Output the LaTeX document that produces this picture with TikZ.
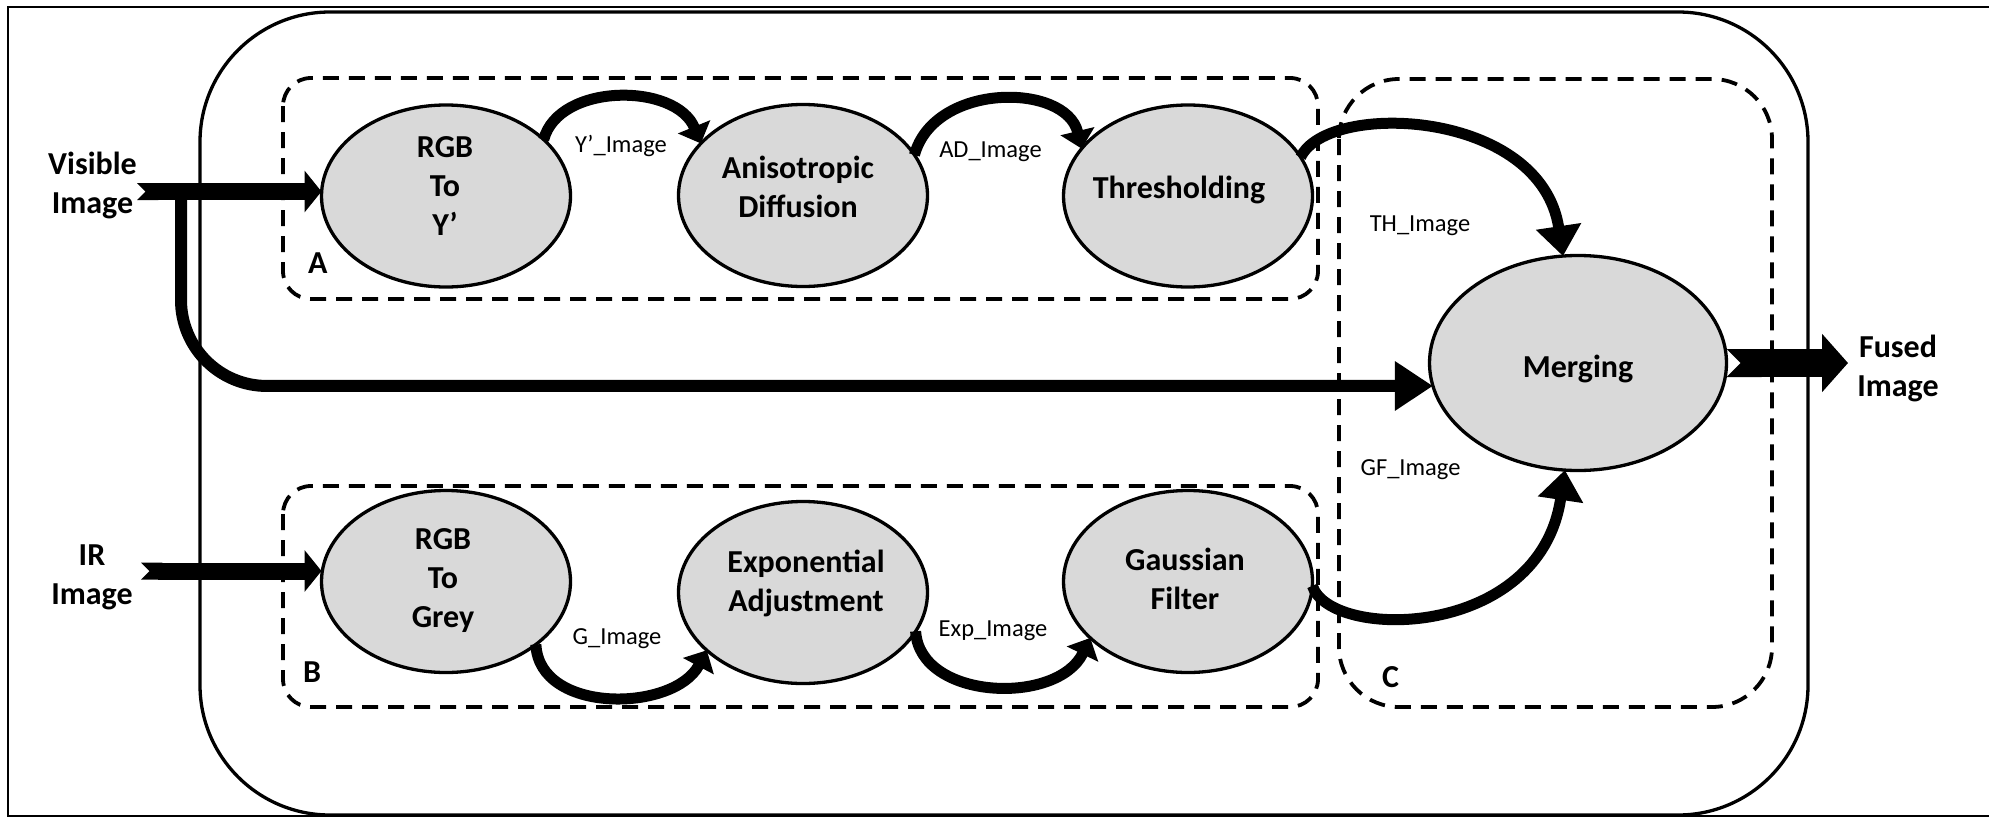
\documentclass[tikz,border=0pt]{standalone}
\usepackage{fontspec}
\setmainfont{Carlito}
\usetikzlibrary{shapes.geometric,arrows.meta}
\definecolor{procgray}{HTML}{D9D9D9}
\begin{document}
\begin{tikzpicture}[x=1pt,y=1pt,
  proc/.style={ellipse,draw,line width=3.3pt,fill=procgray,minimum width=249pt,minimum height=182pt,inner sep=0pt,outer sep=0pt},
  ptext/.style={font=\fontsize{32}{39}\selectfont\bfseries,align=center,inner sep=0pt},
  tag/.style={font=\fontsize{24.5}{29}\selectfont,inner sep=0pt,anchor=base},
  grouplbl/.style={font=\fontsize{32}{39}\selectfont\bfseries,inner sep=0pt,anchor=base west},
  groupbox/.style={draw,line width=3.8pt,dash pattern=on 16pt off 10pt,rounded corners=28pt},
  inarrow/.style={line width=17pt,{Triangle Cap[reversed]}-{Triangle[length=17pt,width=41pt]}},
  feed/.style={line width=12pt,-{Triangle[length=38pt,width=47pt]}},
  outarrow/.style={line width=28pt,{Triangle Cap[reversed]}-{Triangle[length=26pt,width=57pt]}},
  flow/.style={line width=11pt,-{Triangle[length=18pt,width=34pt]}},
  bigflow/.style={line width=11pt,-{Triangle[length=30pt,width=44pt]}},
]
\useasboundingbox (0,0) rectangle (1989,-819);

% frame and system outline
\draw[line width=2.5pt] (1989,-7) -- (8,-7) -- (8,-816) -- (1989,-816);
\draw[line width=3.3pt,rounded corners=130pt] (200,-12) rectangle (1808,-815);

% processing groups
\draw[groupbox] (283,-78) rectangle (1318,-299);
\draw[groupbox] (283,-486) rectangle (1318,-707);
\draw[groupbox,rounded corners=60pt] (1339,-79) rectangle (1772,-707);
\node[grouplbl] (grpA) at (308,-273) {A};
\node[grouplbl] (grpB) at (303,-682) {B};
\node[grouplbl] (grpC) at (1382,-687) {C};

% processing steps
\node[proc] (rgb) at (446,-196) {};
\node[proc] (aniso) at (803,-195.5) {};
\node[proc] (thresh) at (1188,-196) {};
\node[proc] (grey) at (446,-581.5) {};
\node[proc] (expo) at (803,-592.5) {};
\node[proc] (gauss) at (1188,-581.5) {};
\node[proc,minimum width=297pt,minimum height=215pt] (merge) at (1578,-363) {};

\node[ptext] (rgbtxt) at (445,-186) {RGB\\To\\Y’};
\node[ptext] (anisotxt) at (798,-187) {Anisotropic\\Diffusion};
\node[ptext,anchor=base] (threshtxt) at (1179,-198) {Thresholding};
\node[ptext] (greytxt) at (443,-581) {RGB\\To\\Grey};
\node[ptext] (expotxt) at (806,-583) {Exponential\\Adjustment};
\node[ptext] (gausstxt) at (1185,-579) {Gaussian\\Filter};
\node[ptext,anchor=base] (mergetxt) at (1578,-377) {Merging};

% inputs and output
\node[ptext] (vislbl) at (92.5,-185) {Visible\\Image};
\node[ptext] (irlbl) at (92,-577) {IR\\Image};
\node[ptext] (fusedlbl) at (1898,-368) {Fused\\Image};

\coordinate (visin) at (137,-191.5);
\coordinate (vbranch) at (181,-191.5);
\coordinate (irin) at (141,-571);
\coordinate (fusedtip) at (1848,-363);

\draw[feed,rounded corners=86pt] (vbranch) |- (merge.189);
\draw[inarrow] (visin) -- (visin -| rgb.west);
\draw[inarrow] (irin) -- (irin -| grey.west);
\draw[outarrow] (merge.east) -- (fusedtip);

% intermediate images
\draw[flow] (rgb.30) .. controls +(15,57) and +(-25,61) .. (aniso.153);
\draw[flow] (aniso.20) .. controls +(20,73) and +(-16,66) .. (thresh.156);
\draw[bigflow] (thresh.19) .. controls +(27,57) and +(-22,147) .. (merge.98);
\draw[flow] (grey.-35) .. controls +(3,-70) and +(-33,-62) .. (expo.211);
\draw[flow] (expo.-19.5) .. controls +(4,-69) and +(-33,-68) .. (gauss.210);
\draw[bigflow] (gauss.-2) .. controls +(18,-55) and +(-25,-170) .. (merge.263);

\node[tag] (tagY) at (621,-152) {Y’\_Image};
\node[tag] (tagAD) at (990.5,-157) {AD\_Image};
\node[tag] (tagTH) at (1420,-231) {TH\_Image};
\node[tag] (tagGF) at (1410.5,-475) {GF\_Image};
\node[tag] (tagG) at (617,-644) {G\_Image};
\node[tag] (tagExp) at (993,-636) {Exp\_Image};
\end{tikzpicture}
\end{document}
